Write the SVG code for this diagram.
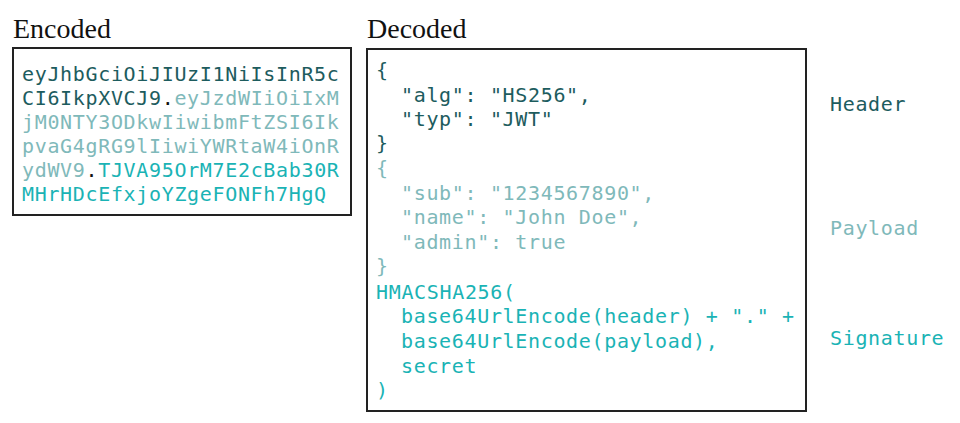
<svg xmlns="http://www.w3.org/2000/svg" width="960" height="423" viewBox="0 0 960 423">
<style>
.t{font-family:"Liberation Serif",serif;font-size:28px;fill:#111}
.m{font-family:"DejaVu Sans Mono",monospace;font-size:20px;letter-spacing:0.66px}
.h{fill:#1d5c5e}.p{fill:#7fb9ba}.s{fill:#1ab3b5}.k{fill:#111}
.box{fill:#fff;stroke:#222;stroke-width:2}
</style>
<rect width="960" height="423" fill="#fff"/>
<g id="encoded">
<text class="t" x="13" y="38">Encoded</text>
<rect class="box" x="13" y="48" width="338" height="167"/>
<text class="m" x="22" y="81"><tspan class="h">eyJhbGciOiJIUzI1NiIsInR5c</tspan></text>
<text class="m" x="22" y="105"><tspan class="h">CI6IkpXVCJ9</tspan><tspan class="k">.</tspan><tspan class="p">eyJzdWIiOiIxM</tspan></text>
<text class="m p" x="22" y="129">jM0NTY3ODkwIiwibmFtZSI6Ik</text>
<text class="m p" x="22" y="153">pvaG4gRG9lIiwiYWRtaW4iOnR</text>
<text class="m" x="22" y="177"><tspan class="p">ydWV9</tspan><tspan class="k">.</tspan><tspan class="s">TJVA95OrM7E2cBab30R</tspan></text>
<text class="m s" x="22" y="201">MHrHDcEfxjoYZgeFONFh7HgQ</text>
</g>
<g id="decoded">
<text class="t" x="367" y="38">Decoded</text>
<rect class="box" x="367" y="49" width="439" height="362"/>
<g class="m">
<text class="h" x="376" y="77">{</text>
<text class="h" x="401" y="102">"alg": "HS256",</text>
<text class="h" x="401" y="126">"typ": "JWT"</text>
<text class="h" x="376" y="150">}</text>
<text class="p" x="376" y="175">{</text>
<text class="p" x="401" y="200">"sub": "1234567890",</text>
<text class="p" x="401" y="224">"name": "John Doe",</text>
<text class="p" x="401" y="249">"admin": true</text>
<text class="p" x="376" y="273">}</text>
<text class="s" x="376" y="299">HMACSHA256(</text>
<text class="s" x="401" y="323">base64UrlEncode(header) + "." +</text>
<text class="s" x="401" y="348">base64UrlEncode(payload),</text>
<text class="s" x="401" y="373">secret</text>
<text class="s" x="376" y="397">)</text>
</g>
</g>
<g id="labels" class="m">
<text class="h" x="830" y="111">Header</text>
<text class="p" x="830" y="235">Payload</text>
<text class="s" x="830" y="345">Signature</text>
</g>
</svg>
